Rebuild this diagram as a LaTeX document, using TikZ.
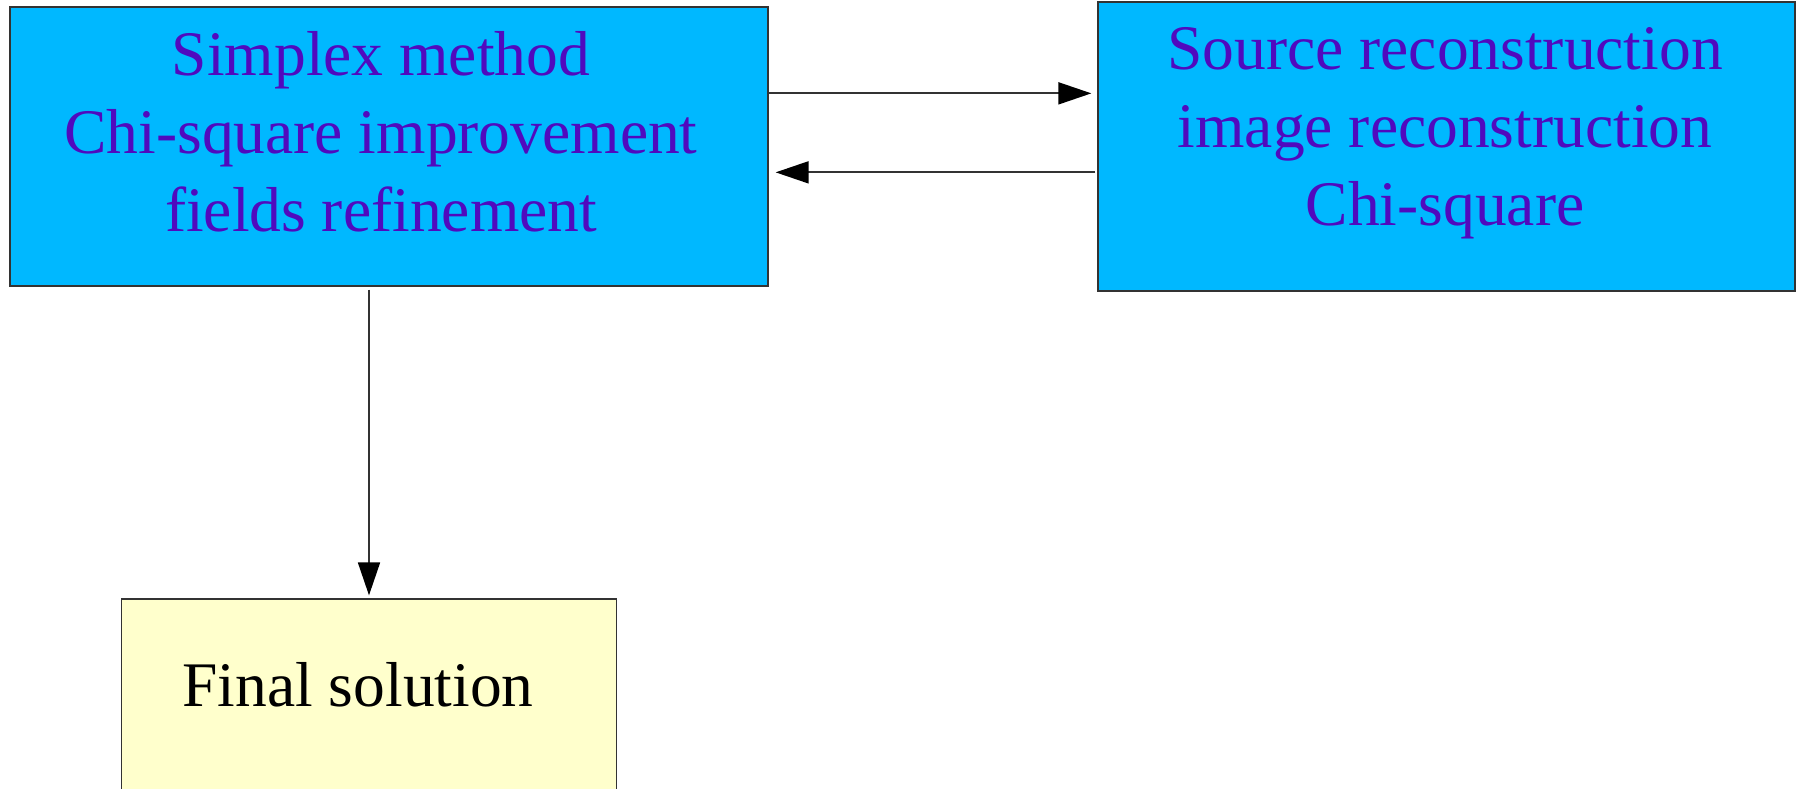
\documentclass[tikz,border=0pt]{standalone}
\usepackage{fontspec}
\setmainfont{Liberation Serif}
\usetikzlibrary{arrows.meta}
\definecolor{boxblue}{RGB}{0,184,255}
\definecolor{txtviolet}{RGB}{80,10,190}
\definecolor{paleyellow}{RGB}{255,255,204}
\definecolor{edge}{RGB}{51,51,51}
\tikzset{
  bluebox/.style={draw=edge, line width=1.3pt, fill=boxblue, rectangle, inner sep=0pt},
  yellowbox/.style={draw=edge, line width=1.3pt, fill=paleyellow, rectangle, inner sep=0pt},
  boxtext/.style={font=\fontsize{63.5}{78}\selectfont, align=center, inner sep=0pt, text=txtviolet},
  arr/.style={draw=edge, line width=1.8pt, -{Triangle[length=33pt,width=22pt,fill=black,color=black]}}
}
\begin{document}
\begin{tikzpicture}[x=1pt,y=-1pt]
\useasboundingbox (0,0) rectangle (1797,788);
\clip (0,0) rectangle (1797,788);
\fill[white] (0,0) rectangle (1797,788);
\node[bluebox, minimum width=758pt, minimum height=279pt] (L) at (389,146.5) {};
\node[bluebox, minimum width=697pt, minimum height=289pt] (R) at (1446.5,146.5) {};
\node[yellowbox, minimum width=495pt, minimum height=240pt] (F) at (369,719) {};
\node[boxtext] (Lt) at (381,132) {Simplex method\\Chi-square improvement\\fields refinement};
\node[boxtext] (Rt) at (1445,133) {Source reconstruction\\image reconstruction\\Chi-square};
\node[font=\fontsize{63.5}{78}\selectfont, inner sep=0pt, anchor=base, text=black] (Ft) at (358,706) {Final solution};
\draw[arr] ([yshift=-87pt]L.north east) -- ([yshift=-92pt,xshift=-6pt]R.north west);
\draw[arr] ([yshift=-171pt,xshift=-2pt]R.north west) -- ([yshift=-166pt,xshift=7pt]L.north east);
\draw[arr] ([xshift=-20pt,yshift=-3pt]L.south) -- ([yshift=3pt]F.north);
\end{tikzpicture}
\end{document}
